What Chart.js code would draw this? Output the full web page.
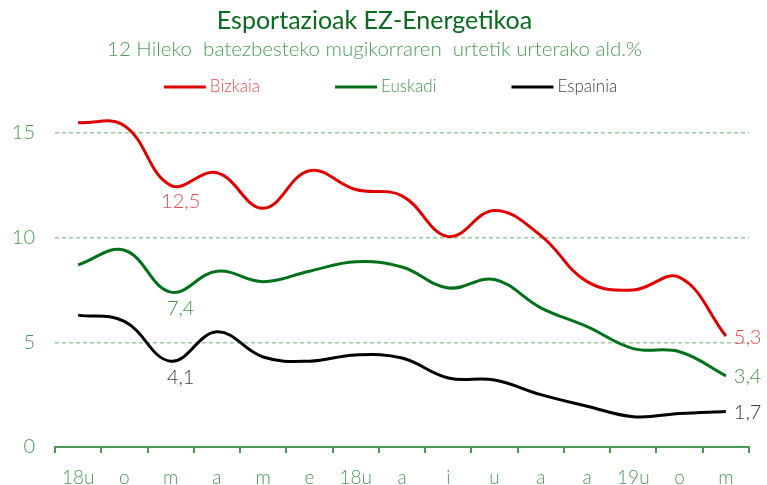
<!DOCTYPE html>
<html>
<head>
<meta charset="utf-8">
<script src="https://cdn.jsdelivr.net/npm/chart.js@4/dist/chart.umd.min.js"></script>
<style>
  html, body { margin: 0; padding: 0; background: #fff; }
  #wrap { width: 767px; height: 485px; }
</style>
</head>
<body>
<div id="wrap"><canvas id="exportChart"></canvas></div>
<script>
const months = ['18u', 'o', 'm', 'a', 'm', 'e', '18u', 'a', 'i', 'u', 'a', 'a', '19u', 'o', 'm'];
const bizkaia = [15.5, 15.35, 12.5, 13.1, 11.4, 13.2, 12.3, 12.0, 10.05, 11.3, 10.1, 7.9, 7.5, 8.1, 5.3];
const euskadi = [8.7, 9.4, 7.4, 8.4, 7.9, 8.4, 8.85, 8.6, 7.6, 8.0, 6.65, 5.75, 4.7, 4.55, 3.4];
const espainia = [6.3, 6.0, 4.1, 5.5, 4.3, 4.1, 4.4, 4.25, 3.3, 3.2, 2.5, 1.95, 1.45, 1.6, 1.7];
const yTicks = [0, 5, 10, 15];
const labelIdx = [2, 14]; // points that get a value label

const axisGreen = '#4a9a55';
const FONT = 'Lato, "Open Sans", sans-serif';

function fmt(v) {
  return v.toFixed(1).replace('.', ',');
}

function makeSeries(label, data, color, textColor) {
  return {
    label: label,
    data: data,
    borderColor: color,
    backgroundColor: color,
    labelColor: textColor,
    borderWidth: 3,
    tension: 0.4,
    pointRadius: 0,
    fill: false,
    clip: false
  };
}

// value labels: below the point for the middle one, right of the point for the last one
const valueLabels = {
  id: 'valueLabels',
  afterDatasetsDraw(chart) {
    const ctx = chart.ctx;
    ctx.save();
    ctx.font = '300 20px ' + FONT;
    chart.data.datasets.forEach((ds, i) => {
      const pts = chart.getDatasetMeta(i).data;
      ctx.fillStyle = ds.labelColor;
      labelIdx.forEach(j => {
        const p = pts[j];
        const txt = fmt(ds.data[j]);
        if (j === ds.data.length - 1) {
          ctx.textAlign = 'left';
          ctx.textBaseline = 'middle';
          ctx.fillText(txt, p.x + 8, p.y + 1);
        } else {
          ctx.textAlign = 'center';
          ctx.textBaseline = 'top';
          ctx.fillText(txt, p.x + 10, p.y + 6);
        }
      });
    });
    ctx.restore();
  }
};

// legend drawn by hand, the items sit far apart like in the original
const wideLegend = {
  id: 'wideLegend',
  afterDraw(chart) {
    const ctx = chart.ctx;
    const lineW = 42, gap = 4, space = 75, y = 87;
    ctx.save();
    ctx.font = '300 17px ' + FONT;
    ctx.textBaseline = 'middle';
    ctx.textAlign = 'left';
    const items = chart.data.datasets.map(ds => lineW + gap + ctx.measureText(ds.label).width);
    const total = items.reduce((a, b) => a + b, 0) + space * (items.length - 1);
    let x = (chart.width - total) / 2 + 7;
    chart.data.datasets.forEach((ds, i) => {
      ctx.strokeStyle = ds.borderColor;
      ctx.lineWidth = 3;
      ctx.beginPath();
      ctx.moveTo(x, y);
      ctx.lineTo(x + lineW, y);
      ctx.stroke();
      ctx.fillStyle = ds.labelColor;
      ctx.fillText(ds.label, x + lineW + gap, y);
      x += items[i] + space;
    });
    ctx.restore();
  }
};

new Chart(document.getElementById('exportChart'), {
  type: 'line',
  data: {
    labels: months,
    datasets: [
      makeSeries('Bizkaia', bizkaia, '#e00000', '#ec4a4f'),
      makeSeries('Euskadi', euskadi, '#00701a', '#3f9748'),
      makeSeries('Espainia', espainia, '#000000', '#404040')
    ]
  },
  options: {
    responsive: true,
    maintainAspectRatio: false,
    animation: false,
    layout: { padding: { top: 0, left: 0, right: 18, bottom: 0 } },
    plugins: {
      legend: { display: false },
      tooltip: { enabled: false },
      title: {
        display: true,
        text: 'Esportazioak EZ-Energetikoa',
        color: '#0b6a1f',
        font: { family: FONT, size: 25, weight: 'normal' },
        padding: { top: 6, bottom: 1 }
      },
      subtitle: {
        display: true,
        text: '12 Hileko  batezbesteko mugikorraren  urtetik urterako ald.%',
        color: '#4c9c58',
        font: { family: FONT, size: 20.5, weight: '300' },
        padding: { top: 0, bottom: 40 }
      }
    },
    scales: {
      x: {
        offset: true,
        afterFit(scale) {
          scale.height = 38;
        },
        grid: {
          display: true,
          drawOnChartArea: false,
          drawTicks: true,
          tickLength: 6,
          color: axisGreen,
          lineWidth: 2,
          offset: true
        },
        border: { display: true, color: axisGreen, width: 2 },
        ticks: {
          color: axisGreen,
          font: { family: FONT, size: 19, weight: '300', lineHeight: 1 },
          padding: 15,
          maxRotation: 0,
          autoSkip: false
        }
      },
      y: {
        min: 0,
        max: 16.5,
        afterBuildTicks(scale) {
          scale.ticks = yTicks.map(v => ({ value: v }));
        },
        afterFit(scale) {
          scale.width = 55;
        },
        grid: {
          drawTicks: false,
          color: ctx => (ctx.tick && ctx.tick.value === 0) ? 'rgba(0,0,0,0)' : '#9cc9a2',
          lineWidth: 1.5
        },
        border: { display: false, dash: [4, 3] },
        ticks: {
          color: axisGreen,
          font: { family: FONT, size: 20, weight: '300' },
          padding: 20
        }
      }
    }
  },
  plugins: [valueLabels, wideLegend]
});
</script>
</body>
</html>
